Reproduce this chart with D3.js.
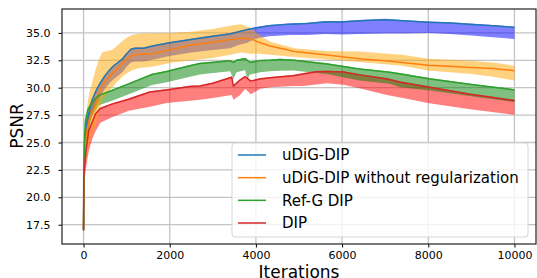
<!DOCTYPE html>
<html>
<head>
<meta charset="utf-8">
<script src="https://cdn.jsdelivr.net/npm/d3@7"></script>
<style>
  html, body { margin: 0; padding: 0; background: #fff; }
  svg { display: block; font-family: "DejaVu Sans", sans-serif; }
</style>
</head>
<body>
<div id="chart"></div>
<script>
// --- Data ---
const seriesNames = ['uDiG-DIP', 'uDiG-DIP without regularization', 'Ref-G DIP', 'DIP'];

const udigIter = [0, 10, 25, 50, 100, 150, 200, 300, 400, 500, 600, 700, 800, 900, 1000, 1100, 1200, 1400, 1600, 2000, 2500, 3000, 3400, 3600, 3800, 4000, 4300, 4800, 5200, 5600, 6000, 6400, 7000, 7400, 8000, 8500, 9000, 9500, 10000];
const udigMean = [17.0, 22.0, 25.0, 26.3, 27.3, 28.2, 28.9, 29.8, 30.5, 31.1, 31.6, 32.0, 32.3, 32.6, 33.1, 33.5, 33.6, 33.6, 33.8, 34.1, 34.4, 34.7, 34.9, 35.1, 35.3, 35.45, 35.65, 35.8, 35.85, 36.0, 36.0, 36.1, 36.2, 36.1, 35.97, 35.9, 35.77, 35.65, 35.5];
const udigLow = [16.3, 20.5, 23.0, 24.8, 26.0, 27.0, 27.7, 28.6, 29.3, 29.9, 30.4, 30.8, 31.1, 31.4, 31.9, 32.3, 32.4, 32.4, 32.55, 32.9, 33.2, 33.45, 33.6, 33.9, 34.1, 34.5, 34.7, 34.8, 34.8, 34.9, 34.85, 34.9, 34.95, 34.95, 35.0, 34.9, 34.76, 34.6, 34.45];

const noregIter = [0, 10, 25, 50, 100, 150, 200, 275, 350, 430, 550, 660, 800, 900, 1000, 1125, 1300, 1600, 2000, 2500, 3000, 3400, 3650, 3850, 4100, 4330, 4900, 5600, 6400, 7000, 7400, 8000, 8500, 9000, 9500, 10000];
const noregMean = [17.0, 21.0, 23.5, 25.3, 26.5, 27.2, 27.7, 28.4, 29.4, 30.2, 30.8, 31.26, 31.8, 32.2, 32.6, 32.93, 33.05, 33.1, 33.45, 33.9, 34.15, 34.4, 34.5, 34.5, 34.1, 33.8, 33.3, 33.0, 32.65, 32.45, 32.3, 32.05, 31.95, 31.85, 31.75, 31.55];
const noregHigh = [17.0, 23.0, 25.5, 27.0, 28.8, 29.8, 30.5, 31.6, 32.5, 33.2, 33.35, 33.45, 33.9, 34.25, 34.55, 34.8, 34.95, 34.97, 35.0, 35.1, 35.35, 35.65, 35.8, 35.5, 34.76, 34.2, 33.6, 33.35, 33.3, 33.12, 33.0, 32.65, 32.55, 32.45, 32.3, 32.0];
const noregLow = [16.3, 19.5, 21.5, 23.3, 24.5, 25.2, 25.8, 26.6, 27.6, 28.9, 29.5, 30.0, 30.6, 31.0, 31.3, 31.6, 31.8, 31.9, 32.25, 32.5, 32.7, 33.0, 33.2, 33.1, 33.1, 33.0, 32.8, 32.6, 32.35, 32.15, 32.0, 31.56, 31.4, 31.26, 31.0, 30.65];

const refgIter = [0, 10, 20, 42, 100, 200, 353, 660, 1050, 1590, 1930, 2470, 2700, 3000, 3400, 3480, 3550, 3750, 3800, 3860, 4100, 4330, 4560, 4870, 5640, 6400, 7100, 7350, 8040, 9040, 10000];
const refgMean = [17.0, 22.5, 25.0, 27.0, 28.0, 28.7, 29.3, 29.74, 30.35, 31.2, 31.47, 32.0, 32.2, 32.3, 32.45, 32.3, 32.5, 32.65, 32.5, 32.3, 32.47, 32.5, 32.57, 32.5, 32.17, 31.7, 31.4, 31.26, 30.8, 30.26, 29.8];
const refgLow = [16.3, 21.0, 22.5, 24.0, 25.8, 27.4, 28.4, 28.8, 29.4, 30.25, 30.5, 31.0, 31.2, 31.35, 31.5, 30.8, 31.4, 31.6, 30.75, 31.2, 31.4, 31.5, 31.55, 31.56, 31.26, 30.65, 30.35, 30.05, 29.74, 29.2, 28.68];

const dipIter = [0, 5, 50, 120, 200, 275, 390, 660, 1050, 1540, 1930, 2470, 2700, 3000, 3440, 3476, 3630, 3750, 3880, 4100, 4330, 4870, 5100, 5400, 5640, 6030, 6400, 7040, 7350, 8020, 8970, 10000];
const dipMean = [17.0, 21.9, 24.0, 26.1, 26.85, 27.6, 28.1, 28.5, 28.95, 29.6, 29.8, 30.1, 30.15, 30.4, 30.96, 30.14, 30.7, 31.0, 30.6, 30.8, 30.9, 31.1, 31.26, 31.45, 31.47, 31.43, 31.17, 30.8, 30.5, 30.05, 29.4, 28.83];
const dipLow = [16.0, 21.0, 22.5, 24.2, 25.3, 26.0, 26.8, 27.3, 27.9, 28.27, 28.6, 28.8, 28.9, 29.05, 29.34, 28.9, 29.3, 29.9, 29.4, 29.9, 30.05, 30.15, 30.16, 30.3, 30.4, 30.26, 29.95, 29.34, 29.1, 28.58, 28.04, 27.52];

const xTicks = [0, 2000, 4000, 6000, 8000, 10000];
const yTicks = [17.5, 20.0, 22.5, 25.0, 27.5, 30.0, 32.5, 35.0];

const lineColors = ['#1f77b4', '#ff7f0e', '#2ca02c', '#d62728'];
const fillColors = ['#0000ff', '#ffa500', '#008000', '#ff0000'];

// --- Build series ---
const zipBand = (iters, mean, low, high) => iters.map((it, i) => ({
  it, mean: mean[i], low: low[i], high: high ? high[i] : mean[i] + 0.08
}));
const series = [
  zipBand(udigIter, udigMean, udigLow, null),
  zipBand(noregIter, noregMean, noregLow, noregHigh),
  zipBand(refgIter, refgMean, refgLow, null),
  zipBand(dipIter, dipMean, dipLow, null)
];

// --- Chart ---
const width = 537, height = 278;
const plot = {left: 62, right: 536, top: 9, bottom: 244};

const svg = d3.select('#chart').append('svg')
  .attr('width', width)
  .attr('height', height);

const x = d3.scaleLinear().domain([-500, 10500]).range([plot.left, plot.right]);
const y = d3.scaleLinear().domain([15.74, 37.18]).range([plot.bottom, plot.top]);

svg.append('defs').append('clipPath').attr('id', 'clip')
  .append('rect')
  .attr('x', plot.left).attr('y', plot.top)
  .attr('width', plot.right - plot.left).attr('height', plot.bottom - plot.top);

// grid
const grid = svg.append('g').attr('class', 'grid');
grid.selectAll('.gx').data(xTicks).join('line')
  .attr('x1', d => x(d)).attr('x2', d => x(d))
  .attr('y1', plot.top).attr('y2', plot.bottom)
  .attr('stroke', '#c4c4c4').attr('stroke-width', 1.3);
grid.selectAll('.gy').data(yTicks).join('line')
  .attr('x1', plot.left).attr('x2', plot.right)
  .attr('y1', d => y(d)).attr('y2', d => y(d))
  .attr('stroke', '#c4c4c4').attr('stroke-width', 1.3);

// bands: drawn so orange sits over blue and green over red
const area = d3.area()
  .x(d => x(d.it))
  .y0(d => y(d.low))
  .y1(d => y(d.high));
const bandOrder = [3, 2, 0, 1];
const bands = svg.append('g').attr('clip-path', 'url(#clip)');
bandOrder.forEach(i => {
  bands.append('path')
    .datum(series[i])
    .attr('fill', fillColors[i])
    .attr('fill-opacity', 0.5)
    .attr('d', area);
});

// mean lines
const line = d3.line().x(d => x(d.it)).y(d => y(d.mean));
const lines = svg.append('g').attr('clip-path', 'url(#clip)');
series.forEach((s, i) => {
  lines.append('path')
    .datum(s)
    .attr('fill', 'none')
    .attr('stroke', lineColors[i])
    .attr('stroke-width', 1.5)
    .attr('stroke-linejoin', 'round')
    .attr('d', line);
});

// axes
const xAxis = svg.append('g')
  .attr('transform', `translate(0,${plot.bottom})`)
  .call(d3.axisBottom(x).tickValues(xTicks).tickFormat(d3.format('d')).tickSize(3.5).tickPadding(3.5));
const yAxis = svg.append('g')
  .attr('transform', `translate(${plot.left},0)`)
  .call(d3.axisLeft(y).tickValues(yTicks).tickFormat(d3.format('.1f')).tickSize(3.5).tickPadding(8));
[xAxis, yAxis].forEach(a => {
  a.select('.domain').remove();
  a.selectAll('text').attr('font-size', 11).attr('fill', '#000').attr('font-family', '"DejaVu Sans", sans-serif');
  a.selectAll('line').attr('stroke', '#000').attr('stroke-width', 1);
});

// spines
svg.append('rect')
  .attr('x', plot.left).attr('y', plot.top)
  .attr('width', plot.right - plot.left).attr('height', plot.bottom - plot.top)
  .attr('fill', 'none').attr('stroke', '#222').attr('stroke-width', 1.2);

// axis labels
svg.append('text')
  .attr('x', (plot.left + plot.right) / 2)
  .attr('y', 278)
  .attr('text-anchor', 'middle')
  .attr('font-size', 17)
  .text('Iterations');
svg.append('text')
  .attr('transform', `translate(23,126) rotate(-90)`)
  .attr('text-anchor', 'middle')
  .attr('font-size', 17)
  .text('PSNR');

// legend
const legend = svg.append('g');
legend.append('rect')
  .attr('x', 232).attr('y', 143)
  .attr('width', 296).attr('height', 94)
  .attr('rx', 3)
  .attr('fill', '#fff').attr('fill-opacity', 0.8)
  .attr('stroke', '#d6d6d6').attr('stroke-width', 1);
const rowY = d3.scalePoint().domain(seriesNames).range([155, 223]);
seriesNames.forEach((name, i) => {
  const cy = rowY(name);
  legend.append('line')
    .attr('x1', 238).attr('x2', 266)
    .attr('y1', cy).attr('y2', cy)
    .attr('stroke', lineColors[i]).attr('stroke-width', 1.5);
  legend.append('text')
    .attr('x', 282).attr('y', cy)
    .attr('dy', '0.36em')
    .attr('font-size', 15)
    .text(name);
});
</script>
</body>
</html>
